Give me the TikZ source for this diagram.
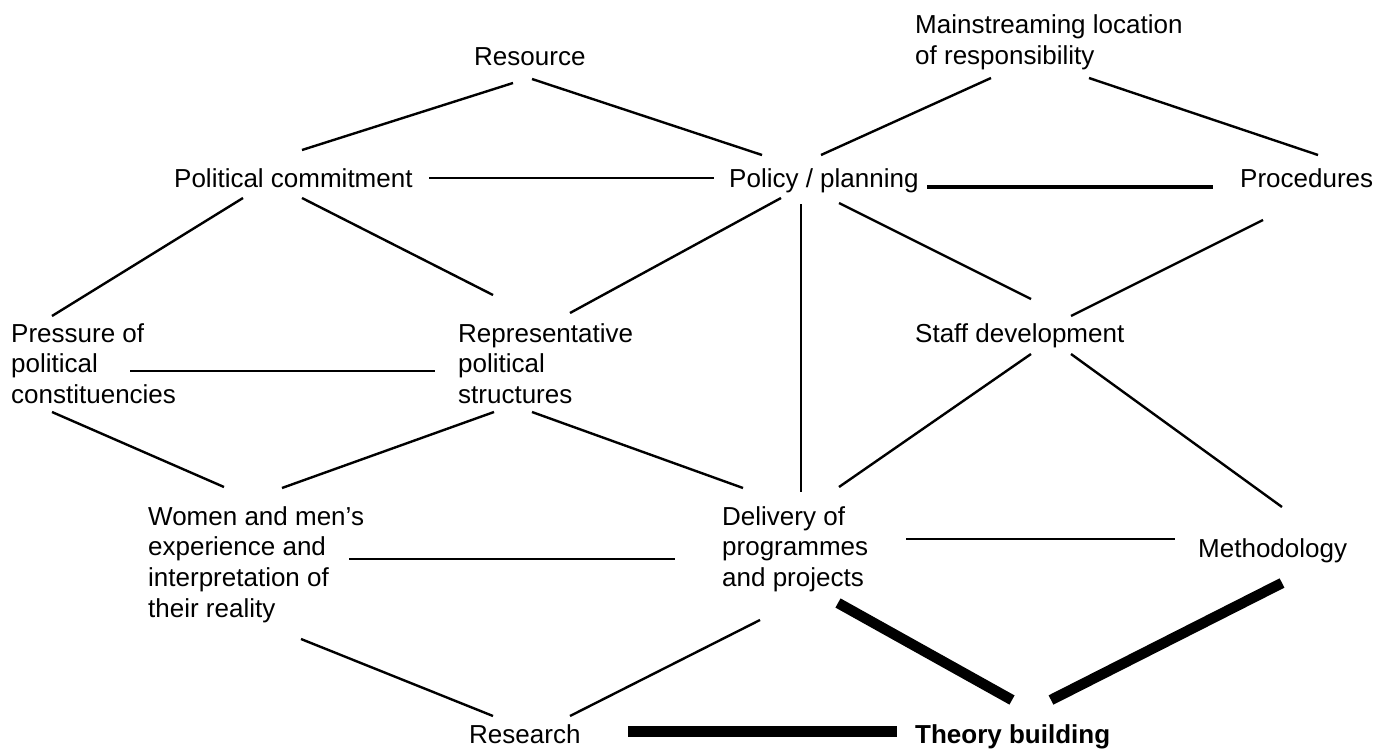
\documentclass[tikz,border=0pt]{standalone}
\usepackage{fontspec}
\setmainfont{Liberation Sans}
\begin{document}
\begin{tikzpicture}[x=1pt,y=-1pt,
  lbl/.style={anchor=base west,inner sep=0pt,align=left,font=\fontsize{26}{30.8}\selectfont},
  thin/.style={line width=2.4pt},
  mid/.style={line width=3.2pt},
  heavy/.style={line width=10.5pt}]
\useasboundingbox (0,0) rectangle (1374,749);
% nodes (anchored at the baseline of their last line)
\node[lbl] (res) at (474,66) {Resource};
\node[lbl] (main) at (915,64.8) {Mainstreaming location\\of responsibility};
\node[lbl] (pc) at (174,188) {Political commitment};
\node[lbl] (pp) at (729,188) {Policy / planning};
\node[lbl] (proc) at (1240,188) {Procedures};
\node[lbl] (pres) at (11,403.6) {Pressure of\\political\\constituencies};
\node[lbl] (rep) at (458,403.6) {Representative\\political\\structures};
\node[lbl] (staff) at (915,342) {Staff development};
\node[lbl] (women) at (148,617.4) {Women and men’s\\experience and\\interpretation of\\their reality};
\node[lbl] (deliv) at (722,586.6) {Delivery of\\programmes\\and projects};
\node[lbl] (meth) at (1198,557) {Methodology};
\node[lbl] (resch) at (469,743) {Research};
\node[lbl,font=\fontsize{26}{30.8}\selectfont\bfseries] (theory) at (915,743) {Theory building};
% connectors
\draw[thin] ([shift={(39,17)}]res.base west) -- ([shift={(128,-38)}]pc.base west);
\draw[thin] ([shift={(58,13)}]res.base west) -- ([shift={(33,-33)}]pp.base west);
\draw[thin] ([shift={(76,13.2)}]main.base west) -- ([shift={(92,-33)}]pp.base west);
\draw[thin] ([shift={(174,13.2)}]main.base west) -- ([shift={(78,-33)}]proc.base west);
\draw[thin] ([shift={(255,-10)}]pc.base west) -- ([shift={(-15,-10)}]pp.base west);
\draw[mid] ([shift={(198,-1)}]pp.base west) -- ([shift={(-27,-1)}]proc.base west);
\draw[thin] ([shift={(69,10)}]pc.base west) -- ([shift={(41,-87.6)}]pres.base west);
\draw[thin] ([shift={(128,10)}]pc.base west) -- ([shift={(35,-108.6)}]rep.base west);
\draw[thin] ([shift={(52,10)}]pp.base west) -- ([shift={(112,-90.6)}]rep.base west);
\draw[thin] ([shift={(72,16)}]pp.base west) -- ([shift={(79,-94.6)}]deliv.base west);
\draw[thin] ([shift={(110,15)}]pp.base west) -- ([shift={(116,-43)}]staff.base west);
\draw[thin] ([shift={(23,32)}]proc.base west) -- ([shift={(156,-26)}]staff.base west);
\draw[thin] ([shift={(119,-32.6)}]pres.base west) -- ([shift={(-23,-32.6)}]rep.base west);
\draw[thin] ([shift={(41,8.4)}]pres.base west) -- ([shift={(76,-130.4)}]women.base west);
\draw[thin] ([shift={(36,8.4)}]rep.base west) -- ([shift={(134,-129.4)}]women.base west);
\draw[thin] ([shift={(74,8.4)}]rep.base west) -- ([shift={(21,-98.6)}]deliv.base west);
\draw[thin] ([shift={(116,12)}]staff.base west) -- ([shift={(117,-99.6)}]deliv.base west);
\draw[thin] ([shift={(156,12)}]staff.base west) -- ([shift={(84,-50)}]meth.base west);
\draw[thin] ([shift={(201,-58.4)}]women.base west) -- ([shift={(-47,-27.6)}]deliv.base west);
\draw[thin] ([shift={(184,-47.6)}]deliv.base west) -- ([shift={(-23,-18)}]meth.base west);
\draw[thin] ([shift={(153,21.6)}]women.base west) -- ([shift={(24,-27)}]resch.base west);
\draw[thin] ([shift={(38,33.4)}]deliv.base west) -- ([shift={(101,-27)}]resch.base west);
\draw[heavy] ([shift={(116,16.4)}]deliv.base west) -- ([shift={(97,-43)}]theory.base west);
\draw[heavy] ([shift={(84,26)}]meth.base west) -- ([shift={(136,-43)}]theory.base west);
\draw[line width=11pt] ([shift={(159,-11.5)}]resch.base west) -- ([shift={(-18,-11.5)}]theory.base west);
\end{tikzpicture}
\end{document}
